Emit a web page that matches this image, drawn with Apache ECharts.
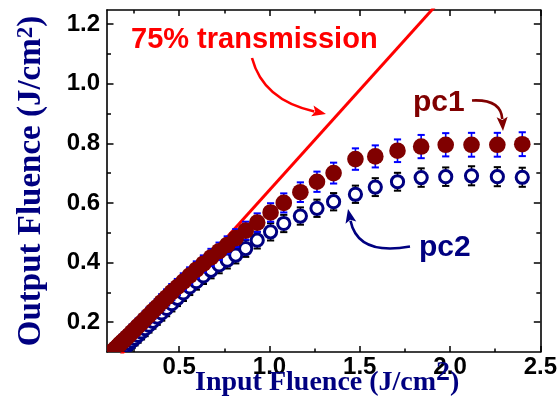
<!DOCTYPE html>
<html><head><meta charset="utf-8">
<script src="https://cdn.jsdelivr.net/npm/echarts@6/dist/echarts.min.js"></script>
<style>html,body{margin:0;padding:0;background:#fff}#c{width:560px;height:399px}</style>
</head><body><div id="c"></div>
<script>
// ---- data ----
const inputFluence = [0.114, 0.122, 0.131, 0.140, 0.150, 0.161, 0.172, 0.184, 0.197, 0.210,
  0.224, 0.239, 0.255, 0.272, 0.291, 0.311, 0.332, 0.354, 0.378, 0.403,
  0.430, 0.459, 0.490, 0.523, 0.558, 0.595, 0.634, 0.676, 0.721, 0.766,
  0.813, 0.868, 0.932, 1.006, 1.079, 1.171, 1.263, 1.355, 1.476, 1.586,
  1.709, 1.840, 1.976, 2.119, 2.262, 2.400];
const pc1Output = [0.092, 0.097, 0.101, 0.107, 0.113, 0.120, 0.127, 0.134, 0.141, 0.149,
  0.157, 0.167, 0.176, 0.187, 0.198, 0.210, 0.223, 0.237, 0.251, 0.267,
  0.283, 0.301, 0.318, 0.336, 0.356, 0.376, 0.396, 0.417, 0.438, 0.459,
  0.482, 0.507, 0.534, 0.568, 0.600, 0.636, 0.671, 0.700, 0.747, 0.756,
  0.775, 0.789, 0.795, 0.795, 0.795, 0.797];
const pc1Error = [0.022, 0.022, 0.022, 0.023, 0.023, 0.023, 0.023, 0.024, 0.024, 0.024,
  0.024, 0.025, 0.025, 0.025, 0.025, 0.026, 0.026, 0.026, 0.026, 0.027,
  0.027, 0.027, 0.027, 0.028, 0.028, 0.028, 0.028, 0.029, 0.029, 0.029,
  0.030, 0.030, 0.031, 0.031, 0.032, 0.033, 0.034, 0.035, 0.036, 0.037,
  0.038, 0.039, 0.039, 0.040, 0.040, 0.040];
const pc2Output = [0.066, 0.071, 0.076, 0.081, 0.087, 0.093, 0.100, 0.107, 0.114, 0.121,
  0.129, 0.137, 0.146, 0.156, 0.167, 0.178, 0.190, 0.203, 0.217, 0.231,
  0.246, 0.262, 0.280, 0.298, 0.318, 0.336, 0.355, 0.374, 0.392, 0.408,
  0.425, 0.447, 0.475, 0.503, 0.531, 0.556, 0.582, 0.604, 0.629, 0.653,
  0.671, 0.685, 0.688, 0.691, 0.688, 0.686];
const pc2Error = [0.022, 0.022, 0.022, 0.022, 0.023, 0.023, 0.023, 0.023, 0.023, 0.024,
  0.024, 0.024, 0.024, 0.025, 0.025, 0.025, 0.025, 0.025, 0.026, 0.026,
  0.026, 0.026, 0.026, 0.027, 0.027, 0.027, 0.027, 0.027, 0.028, 0.028,
  0.028, 0.028, 0.028, 0.029, 0.029, 0.029, 0.029, 0.029, 0.029, 0.030,
  0.030, 0.031, 0.031, 0.032, 0.032, 0.032];
const transmissionLine = [[0.15, 0.072], [2.0, 1.315]];
const xMajorTicks = [0.5, 1.0, 1.5, 2.0, 2.5];
const xMinorTicks = [0.25, 0.75, 1.25, 1.75, 2.25];
const yMajorTicks = [0.2, 0.4, 0.6, 0.8, 1.0, 1.2];
const yMinorTicks = [0.3, 0.5, 0.7, 0.9, 1.1];

// ---- styling ----
const SANS = '"Liberation Sans", Arial, sans-serif';
const SERIF = '"Liberation Serif", "Times New Roman", serif';
const X_MIN = 0.1, X_MAX = 2.5, Y_MIN = 0.1, Y_MAX = 1.247;

const pc1Data = inputFluence.map((x, i) => [x, pc1Output[i], pc1Error[i]]);
const pc2Data = inputFluence.map((x, i) => [x, pc2Output[i], pc2Error[i]]);

function axis(kind, position, ticks, len, showLine, labels) {
  const a = {
    type: 'value', position,
    min: kind === 'x' ? X_MIN : Y_MIN,
    max: kind === 'x' ? X_MAX : Y_MAX,
    axisLine: { show: showLine, onZero: false, lineStyle: { color: '#000', width: 1.6 } },
    axisTick: { show: true, inside: true, length: len, customValues: ticks, lineStyle: { color: '#000', width: 1.5 } },
    axisLabel: { show: false },
    splitLine: { show: false }
  };
  if (labels) {
    a.axisLabel = {
      show: true, customValues: labels, formatter: v => v.toFixed(1),
      margin: kind === 'x' ? 3 : 7, color: '#000',
      fontFamily: SANS, fontSize: 24, fontWeight: 'bold'
    };
  }
  return a;
}

function errRender(color) {
  return function (params, api) {
    const x = api.value(0), y = api.value(1), e = api.value(2);
    const t = api.coord([x, y + e]);
    const b = api.coord([x, y - e]);
    const hw = 3.6;
    const st = { stroke: color, lineWidth: 1.6 };
    return {
      type: 'group', children: [
        { type: 'line', shape: { x1: t[0], y1: t[1], x2: b[0], y2: b[1] }, style: st },
        { type: 'line', shape: { x1: t[0] - hw, y1: t[1], x2: t[0] + hw, y2: t[1] }, style: { stroke: color, lineWidth: 2 } },
        { type: 'line', shape: { x1: b[0] - hw, y1: b[1], x2: b[0] + hw, y2: b[1] }, style: { stroke: color, lineWidth: 2 } }
      ]
    };
  };
}
function filledCircle(params, api) {
  const p = api.coord([api.value(0), api.value(1)]);
  return { type: 'circle', shape: { cx: p[0], cy: p[1], r: 8.3 }, style: { fill: '#800000' } };
}
function openCircle(params, api) {
  const p = api.coord([api.value(0), api.value(1)]);
  return { type: 'circle', shape: { cx: p[0], cy: p[1], r: 6.1 }, style: { fill: '#fff', stroke: '#000080', lineWidth: 3 } };
}

function arrow(start, cp, tip, color, width, headLen, headHalf) {
  const dx = tip[0] - cp[0], dy = tip[1] - cp[1];
  const L = Math.hypot(dx, dy), ux = dx / L, uy = dy / L;
  const bx = tip[0] - ux * headLen, by = tip[1] - uy * headLen;
  const px = -uy, py = ux;
  return [
    { type: 'bezierCurve', z: 100, shape: { x1: start[0], y1: start[1], cpx1: cp[0], cpy1: cp[1], x2: bx + ux * 2, y2: by + uy * 2 },
      style: { stroke: color, lineWidth: width, fill: null } },
    { type: 'polygon', z: 100, shape: { points: [tip, [bx + px * headHalf, by + py * headHalf], [bx + ux * 3, by + uy * 3], [bx - px * headHalf, by - py * headHalf]] },
      style: { fill: color } }
  ];
}

const chart = echarts.init(document.getElementById('c'), null, { renderer: 'canvas' });
chart.setOption({
  animation: false,
  backgroundColor: '#fff',
  grid: { left: 107, right: 17, top: 10, bottom: 47 },
  xAxis: [
    axis('x', 'bottom', xMajorTicks, 6, true, xMajorTicks),
    axis('x', 'bottom', xMinorTicks, 3.5, false, null),
    axis('x', 'top', xMajorTicks, 6, true, null),
    axis('x', 'top', xMinorTicks, 3.5, false, null)
  ],
  yAxis: [
    axis('y', 'left', yMajorTicks, 6.5, true, yMajorTicks),
    axis('y', 'left', yMinorTicks, 4, false, null),
    axis('y', 'right', yMajorTicks, 6.5, true, null),
    axis('y', 'right', yMinorTicks, 4, false, null)
  ],
  series: [
    { type: 'line', name: '75% transmission', data: transmissionLine, symbol: 'none', clip: true,
      lineStyle: { color: '#ff0000', width: 3 }, z: 2, silent: true },
    { type: 'custom', name: 'pc2 error', data: pc2Data, encode: { x: 0, y: 1 }, renderItem: errRender('#000000'), clip: true, z: 3, silent: true },
    { type: 'custom', name: 'pc2', data: pc2Data, encode: { x: 0, y: 1 }, renderItem: openCircle, clip: true, z: 4, silent: true },
    { type: 'custom', name: 'pc1 error', data: pc1Data, encode: { x: 0, y: 1 }, renderItem: errRender('#0000ff'), clip: true, z: 5, silent: true },
    { type: 'custom', name: 'pc1', data: pc1Data, encode: { x: 0, y: 1 }, renderItem: filledCircle, clip: true, z: 6, silent: true }
  ],
  graphic: { elements: [
    { type: 'text', z: 100, x: 131, y: 40, style: { text: '75% transmission', fill: '#ff0000', font: 'bold 29px ' + SANS, align: 'left', verticalAlign: 'middle' } },
    { type: 'text', z: 100, x: 413, y: 102.5, style: { text: 'pc1', fill: '#800000', font: 'bold 30px ' + SANS, align: 'left', verticalAlign: 'middle' } },
    { type: 'text', z: 100, x: 419, y: 247.3, style: { text: 'pc2', fill: '#000080', font: 'bold 30px ' + SANS, align: 'left', verticalAlign: 'middle' } },
    { type: 'text', z: 100, x: 195, y: 358.5, style: {
        text: '{a|Input Fluence (J/cm}{s|2}{a|)}', align: 'left', verticalAlign: 'top',
        rich: {
          a: { font: 'bold 28px ' + SERIF, fill: '#000080', lineHeight: 38, verticalAlign: 'bottom' },
          s: { font: 'bold 28px ' + SERIF, fill: '#000080', lineHeight: 28, verticalAlign: 'top' }
        } } },
    { type: 'text', z: 100, x: 31.2, y: 181, rotation: Math.PI / 2, style: {
        text: '{a|Output Fluence (J/cm}{s|2}{a|)}', align: 'center', verticalAlign: 'middle',
        rich: {
          a: { font: 'bold 33px ' + SERIF, fill: '#000080', lineHeight: 33, verticalAlign: 'bottom' },
          s: { font: 'bold 23px ' + SERIF, fill: '#000080', lineHeight: 23, verticalAlign: 'top' }
        } } },
    ...arrow([252, 58], [263, 100], [326, 114], '#ff0000', 2.6, 14, 5.5),
    ...arrow([472, 100.5], [501, 99], [503, 131], '#800000', 2.6, 14, 5.5),
    ...arrow([410, 246.5], [358, 256], [348, 209], '#000080', 2.6, 14, 5.5)
  ] }
});
</script>
</body></html>
